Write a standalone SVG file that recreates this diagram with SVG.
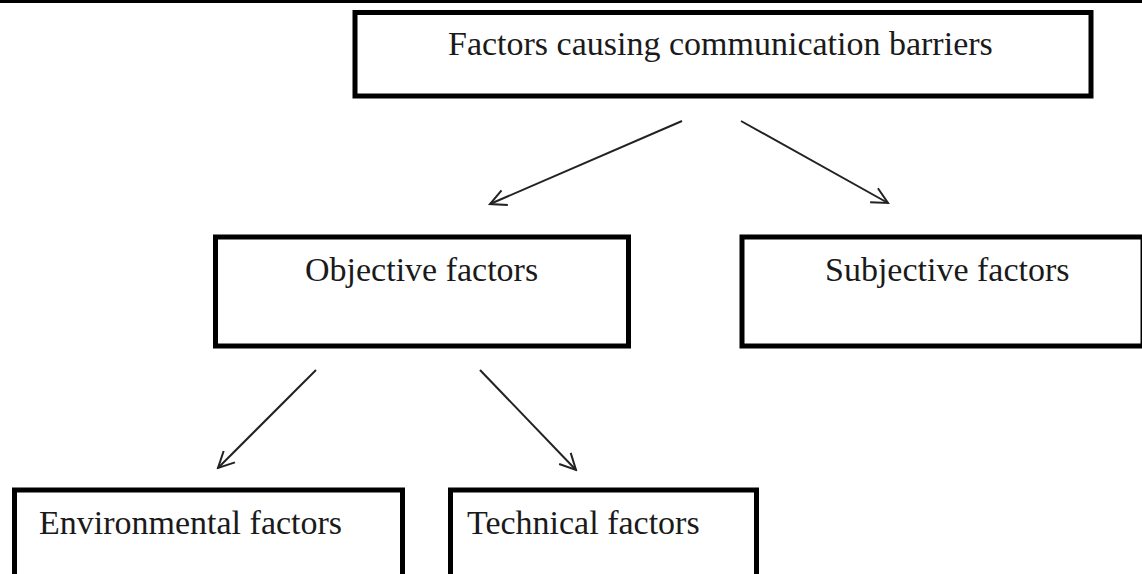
<svg xmlns="http://www.w3.org/2000/svg" width="1142" height="574" viewBox="0 0 1142 574">
  <style>
    .box { fill: #ffffff; stroke: #000000; stroke-width: 5; }
    .lbl { font-family: "Liberation Serif", "Times New Roman", serif; font-size: 34px; fill: #1a1a1a; }
    .conn { stroke: #222222; stroke-width: 2; fill: none; marker-end: url(#arrow); }
  </style>
  <defs>
    <marker id="arrow" viewBox="0 0 20 20" refX="18" refY="10" markerUnits="userSpaceOnUse" markerWidth="20" markerHeight="20" orient="auto">
      <path d="M2,2 L18,10 L2,18" fill="none" stroke="#222222" stroke-width="2"/>
    </marker>
  </defs>
  <rect x="0" y="0" width="1142" height="574" fill="#ffffff"/>
  <rect x="0" y="0" width="1142" height="3" fill="#000000"/>

  <g id="node-root">
    <rect class="box" x="355" y="12.5" width="736" height="83.5"/>
    <text class="lbl" x="448" y="55">Factors causing communication barriers</text>
  </g>
  <g id="node-objective">
    <rect class="box" x="215.5" y="237" width="413" height="109"/>
    <text class="lbl" x="305" y="281">Objective factors</text>
  </g>
  <g id="node-subjective">
    <rect class="box" x="742" y="237" width="401" height="109"/>
    <text class="lbl" x="825" y="281">Subjective factors</text>
  </g>
  <g id="node-environmental">
    <rect class="box" x="14.5" y="490" width="388" height="100"/>
    <text class="lbl" x="39" y="534">Environmental factors</text>
  </g>
  <g id="node-technical">
    <rect class="box" x="450.5" y="490" width="306" height="100"/>
    <text class="lbl" x="467" y="534">Technical factors</text>
  </g>

  <g id="connectors">
    <line class="conn" x1="682" y1="121" x2="490" y2="204"/>
    <line class="conn" x1="741" y1="121" x2="888" y2="203"/>
    <line class="conn" x1="316" y1="370" x2="218" y2="468"/>
    <line class="conn" x1="480" y1="370" x2="576" y2="470"/>
  </g>
</svg>
